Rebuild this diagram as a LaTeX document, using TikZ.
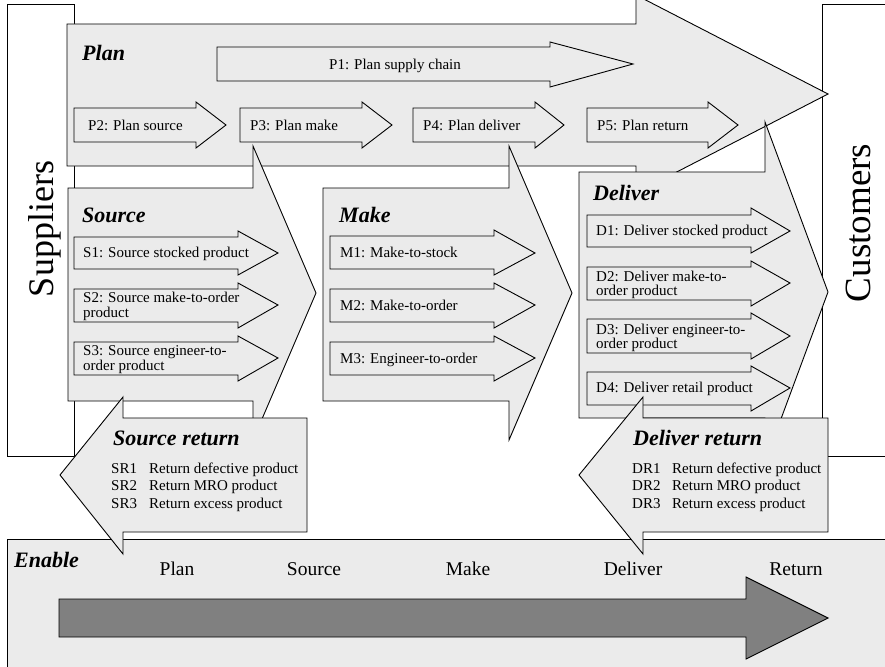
\documentclass[tikz,border=0pt]{standalone}
\usepackage{fontspec}
\setmainfont{Liberation Serif}
\definecolor{boxfill}{RGB}{235,235,235}
\definecolor{darkarrow}{RGB}{128,128,128}
\tikzset{
  graybox/.style={draw=black, fill=boxfill, line width=0.9pt, line join=miter},
  plainbox/.style={draw=black, fill=white, line width=0.9pt},
  darkshape/.style={draw=black, fill=darkarrow, line width=0.9pt},
  small/.style={font=\fontsize{15}{15}\selectfont, inner sep=0pt},
  title/.style={font=\fontsize{22}{22}\selectfont\bfseries\itshape, inner sep=0pt},
  enab/.style={font=\fontsize{19.5}{19.5}\selectfont, inner sep=0pt, anchor=base},
  side/.style={font=\fontsize{36}{36}\selectfont, inner sep=0pt, anchor=base, rotate=90}
}
% right arrow: xl, ytop, ybot, xbody, yheadtop, yheadbot, xpoint, ymid
\newcommand\rarr[8]{\filldraw[graybox] (#1,#2) -- (#4,#2) -- (#4,#5) -- (#7,#8) -- (#4,#6) -- (#4,#3) -- (#1,#3) -- cycle;}
\begin{document}
\begin{tikzpicture}[x=1pt,y=-1pt]
\useasboundingbox (0,0) rectangle (885,666);
\clip (0,0) rectangle (885,666);
% side boxes
\filldraw[plainbox] (7,4) rectangle (74,456);
\filldraw[plainbox] (822,4) rectangle (900,456);
\node[side] (sup) at (53,229) {Suppliers};
\node[side, font=\fontsize{37}{37}\selectfont] (cus) at (870,223) {Customers};
% Plan
\rarr{67}{24}{166}{636}{-5}{193}{828}{94}
\node[title, anchor=base west] (plan) at (82,61) {Plan};
\rarr{217}{47}{81}{550}{42}{87}{633}{64}
\node[small, anchor=base] (p1) at (395,70) {P1: Plan supply chain};
\rarr{74}{108}{142}{196}{102}{148}{226}{125}
\rarr{240}{108}{142}{362}{102}{148}{392}{125}
\rarr{413}{108}{142}{535}{102}{148}{564}{125}
\rarr{587}{108}{142}{708}{102}{148}{738}{125}
\node[small, anchor=base west] (p2) at (88,130) {P2: Plan source};
\node[small, anchor=base west] (p3) at (250,130) {P3: Plan make};
\node[small, anchor=base west] (p4) at (423,130) {P4: Plan deliver};
\node[small, anchor=base west] (p5) at (597,130) {P5: Plan return};
% Source
\rarr{68}{188}{401}{253}{146}{440}{316}{293}
\node[title, anchor=base west] (src) at (82,222) {Source};
\rarr{74}{237}{269}{238}{231}{275}{278}{253}
\rarr{74}{289}{322}{238}{283}{328}{278}{305}
\rarr{74}{342}{375}{238}{336}{381}{278}{358}
\node[small, anchor=base west] (s1) at (83,257) {S1: Source stocked product};
\node[small, anchor=base west] (s2a) at (83,302) {S2: Source make-to-order};
\node[small, anchor=base west] (s2b) at (83,317) {product};
\node[small, anchor=base west] (s3a) at (83,355) {S3: Source engineer-to-};
\node[small, anchor=base west] (s3b) at (83,370) {order product};
% Make
\rarr{323}{188}{401}{509}{146}{440}{572}{293}
\node[title, anchor=base west] (mk) at (339,222) {Make};
\rarr{330}{236}{269}{494}{230}{275}{535}{253}
\rarr{330}{289}{322}{494}{283}{328}{535}{305}
\rarr{330}{342}{375}{494}{336}{381}{535}{358}
\node[small, anchor=base west] (m1) at (340,257) {M1: Make-to-stock};
\node[small, anchor=base west] (m2) at (340,310) {M2: Make-to-order};
\node[small, anchor=base west] (m3) at (340,363) {M3: Engineer-to-order};
% Deliver
\rarr{579}{172}{418}{765}{122}{462}{828}{292}
\node[title, anchor=base west] (dl) at (593,200) {Deliver};
\rarr{587}{215}{247}{751}{208}{253}{790}{231}
\rarr{587}{267}{300}{751}{261}{306}{790}{283}
\rarr{587}{319}{353}{751}{313}{359}{790}{336}
\rarr{587}{372}{405}{751}{366}{411}{790}{388}
\node[small, anchor=base west] (d1) at (596,235) {D1: Deliver stocked product};
\node[small, anchor=base west] (d2a) at (596,281) {D2: Deliver make-to-};
\node[small, anchor=base west] (d2b) at (596,295) {order product};
\node[small, anchor=base west] (d3a) at (596,334) {D3: Deliver engineer-to-};
\node[small, anchor=base west] (d3b) at (596,348) {order product};
\node[small, anchor=base west] (d4) at (596,392) {D4: Deliver retail product};
% Enable
\filldraw[graybox] (7,539) rectangle (900,680);
\node[title, anchor=base west] (en) at (14,567) {Enable};
\filldraw[darkshape] (59,599) -- (746,599) -- (746,577) -- (828,618) -- (746,659) -- (746,637) -- (59,637) -- cycle;
\node[enab] (e1) at (177,575) {Plan};
\node[enab] (e2) at (314,575) {Source};
\node[enab] (e3) at (468,575) {Make};
\node[enab] (e4) at (633,575) {Deliver};
\node[enab] (e5) at (796,575) {Return};
% Source return
\filldraw[graybox] (307,418) -- (123,418) -- (123,397) -- (60,475) -- (123,554) -- (123,532) -- (307,532) -- cycle;
\node[title, anchor=base west] (sr) at (113,445) {Source return};
\node[small, anchor=base west] (sr1) at (111,473) {SR1};
\node[small, anchor=base west] (sr2) at (111,490) {SR2};
\node[small, anchor=base west] (sr3) at (111,508) {SR3};
\node[small, anchor=base west] (sr1t) at (149,473) {Return defective product};
\node[small, anchor=base west] (sr2t) at (149,490) {Return MRO product};
\node[small, anchor=base west] (sr3t) at (149,508) {Return excess product};
% Deliver return
\filldraw[graybox] (828,418) -- (643,418) -- (643,397) -- (579,475) -- (643,554) -- (643,532) -- (828,532) -- cycle;
\node[title, anchor=base west] (dr) at (633,445) {Deliver return};
\node[small, anchor=base west] (dr1) at (632,473) {DR1};
\node[small, anchor=base west] (dr2) at (632,490) {DR2};
\node[small, anchor=base west] (dr3) at (632,508) {DR3};
\node[small, anchor=base west] (dr1t) at (672,473) {Return defective product};
\node[small, anchor=base west] (dr2t) at (672,490) {Return MRO product};
\node[small, anchor=base west] (dr3t) at (672,508) {Return excess product};
\end{tikzpicture}
\end{document}
